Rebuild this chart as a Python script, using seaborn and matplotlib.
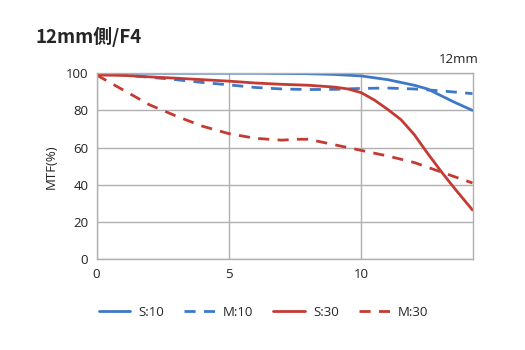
import matplotlib
matplotlib.use("Agg")
import matplotlib.pyplot as plt
import seaborn as sns
import pandas as pd

s10_x = [0, 2, 4, 6, 8, 9, 10, 11, 12, 12.5, 13, 13.5, 14.2]
s10_y = [100, 100, 100, 100, 99.7, 99.3, 98.5, 96.5, 93.5, 91.5, 88, 84.5, 80]
m10_x = [0, 1, 2, 3, 4, 5, 6, 7, 8, 9, 10, 11, 12, 13, 14.2]
m10_y = [100, 99, 97.8, 96.5, 95, 93.7, 92.3, 91.5, 91.2, 91.3, 91.8, 92, 91.5, 90.5, 89]
s30_x = [0, 1, 2, 3, 4, 5, 6, 7, 8, 9, 9.5, 10, 10.5, 11, 11.5, 12, 12.5, 13, 13.5, 14.2]
s30_y = [99, 98.8, 98, 97.3, 96.5, 95.7, 94.7, 94, 93.5, 92.5, 91.5, 89.5, 85.5, 80.5, 75, 67, 57, 47.5, 38.5, 26.5]
m30_x = [0, 1, 2, 3, 4, 5, 6, 7, 7.5, 8, 9, 10, 11, 12, 13, 14.2]
m30_y = [99, 91, 83, 77, 71.5, 67.5, 65, 64, 64.5, 64.5, 61.5, 58.5, 55.5, 52, 47, 41]

series_names = ["S:10", "M:10", "S:30", "M:30"]
x_ticks = [0, 5, 10]
y_ticks = [0, 20, 40, 60, 80, 100]

frames = []
for name, xs, ys in zip(series_names, [s10_x, m10_x, s30_x, m30_x], [s10_y, m10_y, s30_y, m30_y]):
    frames.append(pd.DataFrame({"x": xs, "y": ys, "series": name}))
df = pd.concat(frames, ignore_index=True)

sns.set_style("white")
plt.rcParams['font.family'] = ['Open Sans', 'DejaVu Sans']

fig = plt.figure(figsize=(5.25, 3.5), dpi=100)
ax = fig.add_axes([0.184, 0.259, 0.716, 0.532])

blue = "#3f78c6"
red = "#c43b33"
palette = {"S:10": blue, "M:10": blue, "S:30": red, "M:30": red}
dashes = {"S:10": "", "M:10": (4, 3), "S:30": "", "M:30": (4, 3)}

sns.lineplot(data=df, x="x", y="y", hue="series", style="series",
             palette=palette, dashes=dashes, hue_order=series_names,
             style_order=series_names, linewidth=2, ax=ax, sort=False,
             estimator=None, legend=True)

ax.set_xlim(0, 14.2)
ax.set_ylim(0, 100)
ax.set_xticks(x_ticks)
ax.set_yticks(y_ticks)
ax.grid(True, color="#b0b0b0", linewidth=1)
ax.set_axisbelow(True)
for sp in ax.spines.values():
    sp.set_color("#b0b0b0")
    sp.set_linewidth(1)
ax.tick_params(axis="both", length=0, labelsize=9.5, colors="#222222", pad=6)
ax.set_xlabel("")
ax.set_ylabel("MTF(%)", fontsize=9.5, color="#222222", labelpad=6)

handles, labels = ax.get_legend_handles_labels()
ax.legend(handles, labels, loc="center", bbox_to_anchor=(0.444, -0.283),
          ncol=4, frameon=False, fontsize=9.5, handlelength=2.4,
          columnspacing=1.5, handletextpad=0.6)

fig.text(0.067, 0.895, "12mm側/F4", fontsize=13.5, fontweight="bold",
         family=["Noto Sans CJK JP", "DejaVu Sans"], va="center", ha="left")
fig.text(0.912, 0.83, "12mm", fontsize=9.5, ha="right", va="center", color="#222222")

fig.savefig("out.png", dpi=100, facecolor="white")
